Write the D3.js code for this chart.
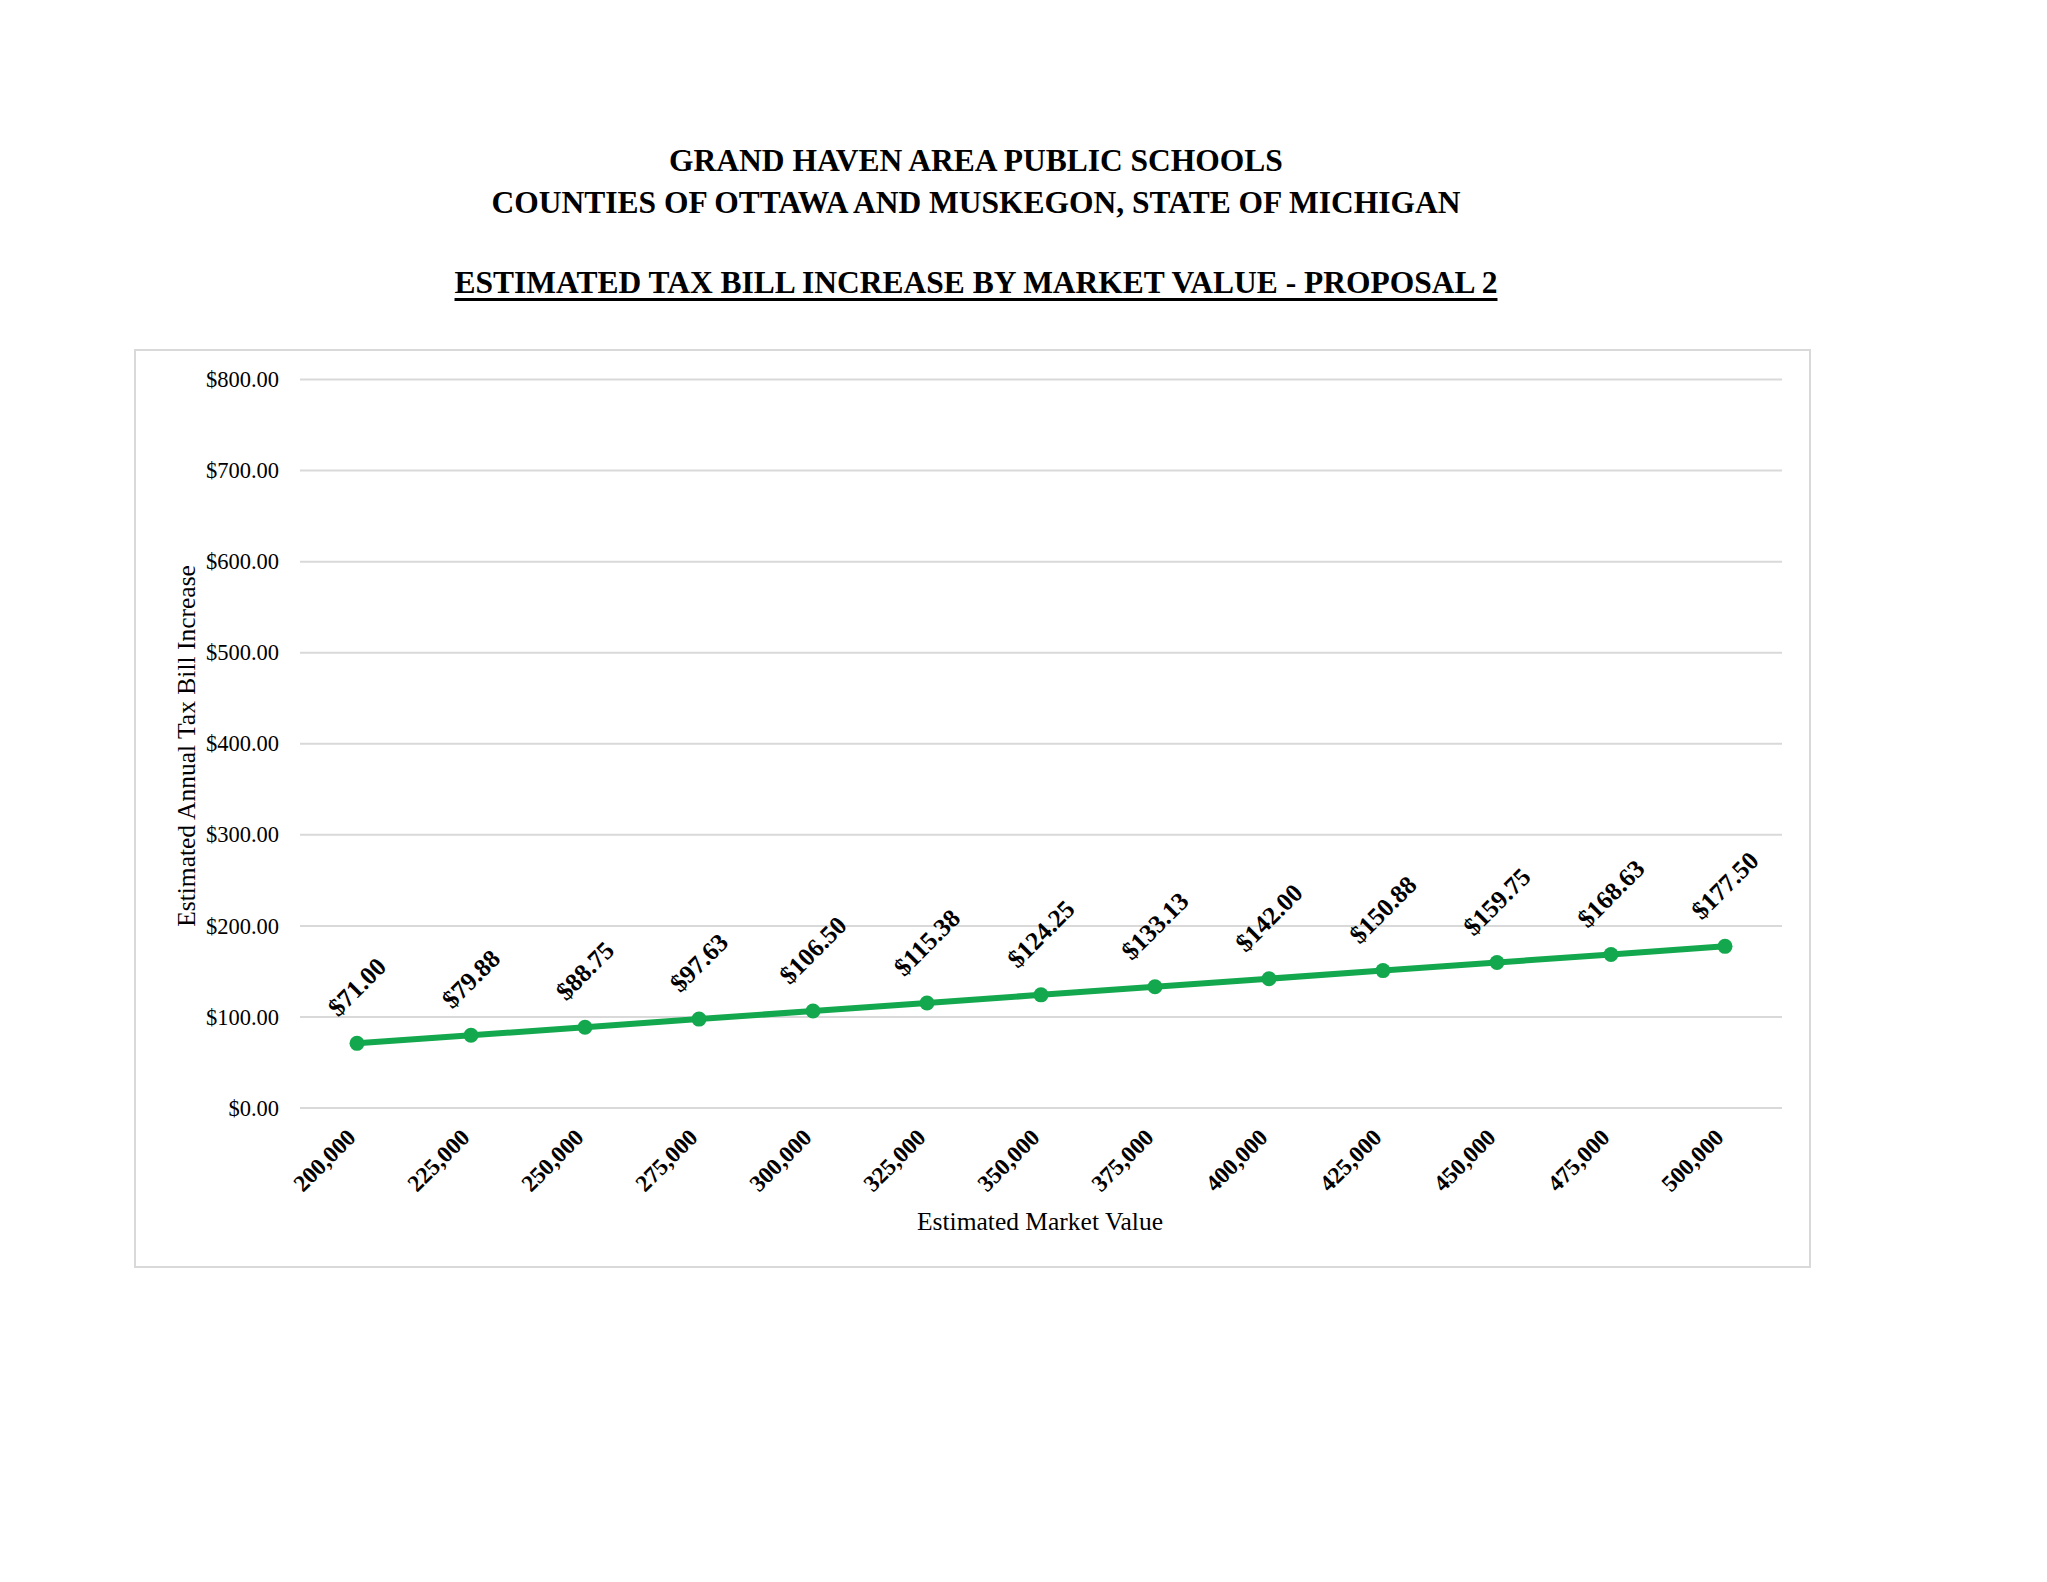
<!DOCTYPE html>
<html>
<head>
<meta charset="utf-8">
<script src="https://cdn.jsdelivr.net/npm/d3@7"></script>
<style>
  body { margin: 0; background: #fff; }
  text { font-family: "Liberation Serif", "Times New Roman", serif; fill: #000; }
</style>
</head>
<body>
<script>
// data
var marketValues = ['200,000', '225,000', '250,000', '275,000', '300,000', '325,000', '350,000',
  '375,000', '400,000', '425,000', '450,000', '475,000', '500,000'];
var taxIncrease = [71.00, 79.88, 88.75, 97.63, 106.50, 115.38, 124.25, 133.13, 142.00, 150.88, 159.75, 168.63, 177.50];
var yTicks = [0, 100, 200, 300, 400, 500, 600, 700, 800];
var titleLines = ['GRAND HAVEN AREA PUBLIC SCHOOLS', 'COUNTIES OF OTTAWA AND MUSKEGON, STATE OF MICHIGAN'];
var subTitle = 'ESTIMATED TAX BILL INCREASE BY MARKET VALUE - PROPOSAL 2';

var width = 2047, height = 1582;
var lineColor = '#14a84e', gridColor = '#d9d9d9';

var svg = d3.select('body').append('svg')
  .attr('width', width)
  .attr('height', height);

// headings
var titleX = 976;
svg.selectAll('text.title').data(titleLines).enter().append('text')
  .attr('class', 'title')
  .attr('x', titleX)
  .attr('y', function (d, i) { return 171 + i * 41.5; })
  .attr('text-anchor', 'middle')
  .attr('font-weight', 'bold')
  .attr('font-size', 31.5)
  .text(function (d) { return d; });

var sub = svg.append('text')
  .attr('x', titleX)
  .attr('y', 292.5)
  .attr('text-anchor', 'middle')
  .attr('font-weight', 'bold')
  .attr('font-size', 31.5)
  .text(subTitle);
var subLen = sub.node().getComputedTextLength();
svg.append('line')
  .attr('x1', titleX - subLen / 2).attr('x2', titleX + subLen / 2)
  .attr('y1', 299.5).attr('y2', 299.5)
  .attr('stroke', '#000').attr('stroke-width', 3);

// chart frame
svg.append('rect')
  .attr('x', 135).attr('y', 350)
  .attr('width', 1675).attr('height', 917)
  .attr('fill', '#fff')
  .attr('stroke', gridColor)
  .attr('stroke-width', 2);

var x = d3.scaleBand().domain(marketValues).range([300, 1782]);
var y = d3.scaleLinear().domain([0, 800]).range([1108, 379.5]);

// gridlines
svg.append('g').selectAll('line').data(yTicks).enter().append('line')
  .attr('x1', 300).attr('x2', 1782)
  .attr('y1', function (d) { return y(d); })
  .attr('y2', function (d) { return y(d); })
  .attr('stroke', gridColor)
  .attr('stroke-width', 2);

// y tick labels
svg.append('g').selectAll('text').data(yTicks).enter().append('text')
  .attr('x', 279)
  .attr('y', function (d) { return y(d); })
  .attr('dy', '0.34em')
  .attr('text-anchor', 'end')
  .attr('font-size', 22.5)
  .text(function (d) { return '$' + d3.format('.2f')(d); });

// x tick labels, rotated
function cx(d) { return x(d) + x.bandwidth() / 2; }
svg.append('g').selectAll('text').data(marketValues).enter().append('text')
  .attr('text-anchor', 'end')
  .attr('font-weight', 'bold')
  .attr('font-size', 23.5)
  .attr('transform', function (d) { return 'translate(' + cx(d) + ',1139) rotate(-45)'; })
  .text(function (d) { return d; });

// axis titles
svg.append('text')
  .attr('transform', 'translate(195,746) rotate(-90)')
  .attr('text-anchor', 'middle')
  .attr('font-size', 25.5)
  .text('Estimated Annual Tax Bill Increase');
svg.append('text')
  .attr('x', 1040).attr('y', 1230)
  .attr('text-anchor', 'middle')
  .attr('font-size', 25.5)
  .text('Estimated Market Value');

// series
var line = d3.line()
  .x(function (d, i) { return cx(marketValues[i]); })
  .y(function (d) { return y(d); });
svg.append('path')
  .datum(taxIncrease)
  .attr('d', line)
  .attr('fill', 'none')
  .attr('stroke', lineColor)
  .attr('stroke-width', 6)
  .attr('stroke-linejoin', 'round');

svg.append('g').selectAll('circle').data(taxIncrease).enter().append('circle')
  .attr('cx', function (d, i) { return cx(marketValues[i]); })
  .attr('cy', function (d) { return y(d); })
  .attr('r', 7.5)
  .attr('fill', lineColor);

// data labels, rotated and set above each point
var labelSize = 25.5;
svg.append('g').selectAll('text').data(taxIncrease).enter().append('text')
  .attr('text-anchor', 'middle')
  .attr('dy', '0.33em')
  .attr('font-weight', 'bold')
  .attr('font-size', labelSize)
  .text(function (d) { return '$' + d3.format('.2f')(d); })
  .attr('transform', function (d, i) {
    var len = this.getComputedTextLength();
    var boxH = (len + labelSize * 0.72) * Math.SQRT1_2;
    var px = cx(marketValues[i]), py = y(d) - 25 - boxH / 2;
    return 'translate(' + px + ',' + py + ') rotate(-45)';
  });
</script>
</body>
</html>
